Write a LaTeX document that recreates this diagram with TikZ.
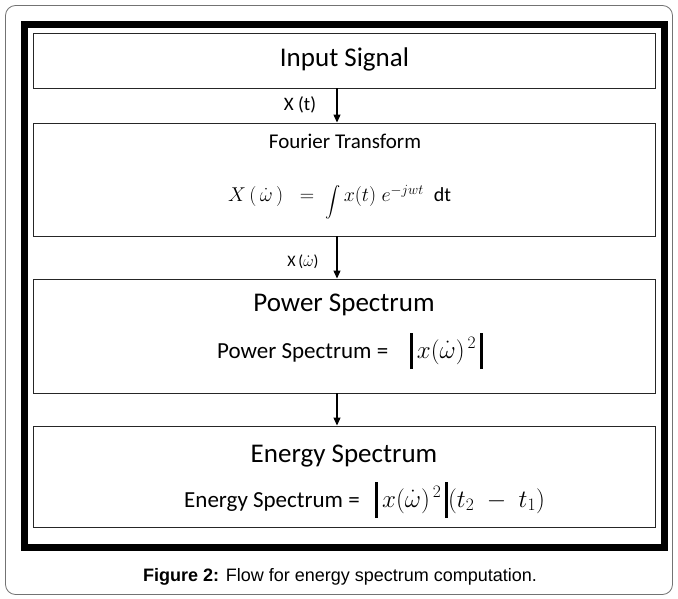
\documentclass[tikz,border=0pt]{standalone}
\usepackage{fix-cm}
\usepackage{amsmath}
\usepackage{fontspec}
\setmainfont{Carlito}
\newfontfamily\capfont{Liberation Sans}
\usetikzlibrary{arrows.meta,calc}

\newcommand{\fsz}[1]{\fontsize{#1}{#1}\selectfont}
\newcommand{\thickbar}{\rule[-11pt]{2.6pt}{36pt}}
\newcommand{\wdot}{\dot{\omega}}
\newcommand{\bigint}{\raisebox{-4pt}{\scalebox{0.73}{$\displaystyle\int$}}}

\begin{document}
\begin{tikzpicture}[x=1pt,y=-1pt,
  box/.style={draw=black!85,line width=0.9pt,minimum width=622pt,inner sep=0pt},
  flow/.style={line width=1.1pt,-{Triangle[length=8pt,width=7pt]}},
  lbl/.style={inner sep=0pt}]
  \useasboundingbox (0,0) rectangle (678,599);
  % frames
  \draw[black!55,line width=0.8pt,rounded corners=10pt] (5.5,5.5) rectangle (672.5,594.5);
  \draw[line width=7pt] (24.5,24.5) rectangle (664.5,547.5);
  % blocks
  \node[box,minimum height=55pt] (input) at (344,60.5) {};
  \node[box,minimum height=113pt] (fourier) at (344,179.5) {};
  \node[box,minimum height=114pt] (power) at (344,336) {};
  \node[box,minimum height=101pt] (energy) at (344,476.5) {};
  % flow arrows
  \draw[flow] ([xshift=-7pt]input.south) -- ([xshift=-7pt]fourier.north);
  \draw[flow] ([xshift=-7pt]fourier.south) -- ([xshift=-7pt]power.north);
  \draw[flow] ([xshift=-7pt]power.south) -- ([xshift=-7pt]energy.north);
  % texts
  \node[lbl,anchor=base,font=\fsz{27}] (inputtxt) at (344.5,67) {Input Signal};
  \node[lbl,anchor=base,font=\fsz{19}] (xt) at (300,111) {X (t)};
  \node[lbl,anchor=base,font=\fsz{21}] (ftitle) at (345,149) {Fourier Transform};
  \node[lbl,anchor=base west,font=\fsz{20}] (feq) at (228,202)
    {$X\,(\,\wdot\,)\;\;=\;\;$\bigint$\,x(t)\;e^{-jwt}$\; dt};
  \node[lbl,anchor=base,font=\fsz{16}] (xw) at (303,266) {X\,($\wdot$)};
  \node[lbl,anchor=base,font=\fsz{27}] (ptitle) at (344,311) {Power Spectrum};
  \node[lbl,anchor=base west,font=\fsz{23}] (peq) at (217,358)
    {Power Spectrum =\hspace{22pt}\thickbar{\fsz{25}$\,x(\wdot)^{\,2}\,$}\thickbar};
  \node[lbl,anchor=base,font=\fsz{27}] (etitle) at (344,462) {Energy Spectrum};
  \node[lbl,anchor=base west,font=\fsz{23}] (eeq) at (184,507)
    {Energy Spectrum = \ \ \thickbar{\fsz{25}$\,x(\wdot)^{\,2}\,$}\thickbar{\fsz{25}$(t_{2}\;-\;t_{1})$}};
  \node[lbl,anchor=base,font=\capfont\fsz{18}] (cap) at (340,581) {\textbf{Figure 2:} Flow for energy spectrum computation.};
\end{tikzpicture}
\end{document}
